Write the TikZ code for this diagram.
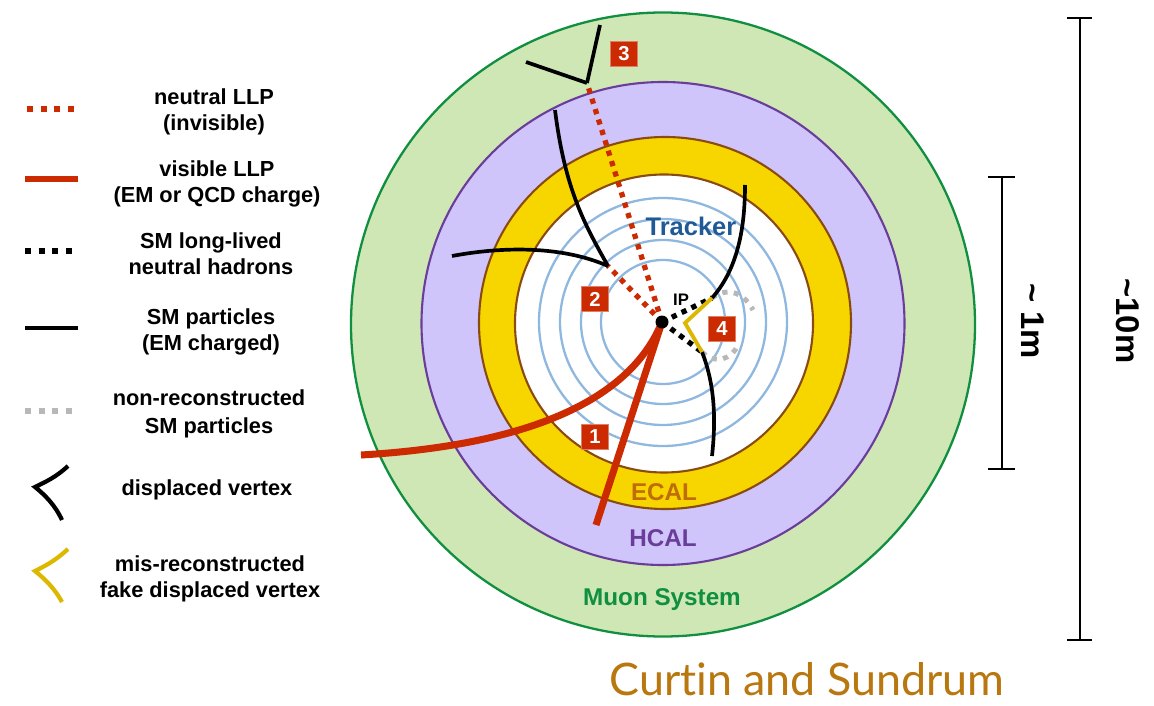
\documentclass[tikz,border=0pt]{standalone}
\usepackage{fontspec}
\usepackage{xcolor}
\usetikzlibrary{arrows.meta, positioning}
\setmainfont{Liberation Sans}
\newfontfamily\creditfont[Ligatures=NoCommon]{Lato}
\definecolor{muonbg}{HTML}{CFE6B5}
\definecolor{muonline}{HTML}{0F8F3F}
\definecolor{hcalbg}{HTML}{CFC5FB}
\definecolor{hcalline}{HTML}{6A3D9A}
\definecolor{ecalbg}{HTML}{F7D600}
\definecolor{ecalline}{HTML}{8A4B10}
\definecolor{ecaltext}{HTML}{C06C0A}
\definecolor{trackerline}{HTML}{8FB8E0}
\definecolor{trackertext}{HTML}{1F5A96}
\definecolor{llpred}{HTML}{CC2A00}
\definecolor{fakeyellow}{HTML}{DDB800}
\definecolor{nonrecgrey}{HTML}{B8B8B8}
\definecolor{creditcolour}{HTML}{B8770F}

\begin{document}
\begin{tikzpicture}[x=0.02cm, y=-0.02cm,
    legendtext/.style={align=center, font=\bfseries\fontsize{12.4}{14.7}\selectfont, inner sep=0pt},
    ringlabel/.style={font=\bfseries\fontsize{13.8}{15}\selectfont, inner sep=0pt},
    scalelabel/.style={font=\bfseries\fontsize{18.7}{20}\selectfont, inner sep=0pt, rotate=-90},
    badge/.style={rectangle, fill=llpred, draw=llpred!60!white, line width=0.3pt, minimum width=0.55cm, minimum height=0.51cm, inner sep=0pt, text=white, font=\bfseries\fontsize{11.5}{12}\selectfont},
    neutralllp/.style={draw=llpred, line width=3pt, dash pattern=on 3pt off 3.2pt},
    visiblellp/.style={draw=llpred, line width=4pt},
    hadron/.style={draw=black, line width=3pt, dash pattern=on 3pt off 3.2pt},
    smtrack/.style={draw=black, line width=2.1pt},
    nonrec/.style={draw=nonrecgrey, line width=2.8pt, dash pattern=on 3pt off 3.6pt},
    fakevertex/.style={draw=fakeyellow, line width=2.2pt},
    scalebar/.style={draw=black, line width=1.1pt}
]
\useasboundingbox (0,0) rectangle (1154,706);

% detector rings
\draw[draw=muonline, fill=muonbg, line width=1.3pt] (663,324.5) circle (312);
\draw[draw=hcalline, fill=hcalbg, line width=1.2pt] (663,323.5) circle (241.5);
\draw[draw=ecalline, fill=ecalbg, line width=1.2pt] (665,323) circle (186);
\draw[draw=ecalline, fill=white, line width=1.2pt] (664,323.5) circle (149);
\foreach \rad in {62,82,103,124}
    \draw[draw=trackerline, line width=1.3pt] (663,322) circle (\rad);

% named points
\coordinate (ip) at (662,322);
\coordinate (dvtwo) at (608,266);
\coordinate (dvthree) at (587,83);
\coordinate (kaonup) at (712,298);
\coordinate (kaondown) at (702,352);
\coordinate (fakedv) at (685,323);

% tracks
\draw[neutralllp] (ip) -- (dvthree);
\draw[neutralllp] (ip) -- (dvtwo);
\draw[hadron] (ip) -- (kaonup);
\draw[hadron] (ip) -- (kaondown);
\draw[nonrec] (kaonup) .. controls (730,285) and (745,295) .. (753,310);
\draw[nonrec] (kaondown) .. controls (715,365) and (732,360) .. (739,343);
\draw[visiblellp] (ip) .. controls (630,400) and (530,445) .. (361,455);
\draw[visiblellp] (ip) -- (596,525);
\draw[smtrack] (dvtwo) .. controls (585,225) and (565,190) .. (555,110);
\draw[smtrack] (dvtwo) .. controls (560,245) and (500,247) .. (452,256);
\draw[smtrack] (dvthree) -- (600,25);
\draw[smtrack] (dvthree) -- (526,62);
\draw[smtrack] (kaonup) .. controls (735,272) and (745,235) .. (745,185);
\draw[smtrack] (kaondown) .. controls (715,385) and (716,420) .. (712,456);
\draw[fakevertex] (kaonup) -- (fakedv) -- (kaondown);
\fill[black] (ip) circle (6.5);

% labels in the detector
\node[ringlabel, text=trackertext, font=\bfseries\fontsize{14.5}{16}\selectfont] (tracker) at (691,226) {Tracker};
\node[ringlabel, text=black, font=\bfseries\fontsize{9.5}{11}\selectfont] (iplabel) at (681,300) {IP};
\node[ringlabel, text=ecaltext] (ecal) at (664,492) {ECAL};
\node[ringlabel, text=hcalline] (hcal) at (663,538) {HCAL};
\node[ringlabel, text=muonline] (muon) at (662,600) {Muon System};
\node[badge] (one) at (595,437) {1};
\node[badge] (two) at (595,299) {2};
\node[badge] (three) at (624,54) {3};
\node[badge] (four) at (722,329) {4};

% scale bars
\coordinate (onetop) at (1002,177);
\coordinate (onebot) at (1002,469);
\coordinate (tentop) at (1080,18);
\coordinate (tenbot) at (1080,640);
\draw[scalebar] (onetop) -- (onebot);
\draw[scalebar] (988,177) -- (1015,177);
\draw[scalebar] (988,469) -- (1015,469);
\draw[scalebar] (tentop) -- (tenbot);
\draw[scalebar] (1067,18) -- (1092,18);
\draw[scalebar] (1067,640) -- (1092,640);
\node[scalelabel] (onem) at (1033,321) {\textasciitilde\ 1m};
\node[scalelabel] (tenm) at (1128,321) {\textasciitilde 10m};

% legend
\coordinate (la) at (27,109);  \coordinate (lb) at (74.5,109);
\coordinate (lc) at (25,179);  \coordinate (ld) at (78,179);
\coordinate (le) at (25,251);  \coordinate (lf) at (72.5,251);
\coordinate (lg) at (25,328);  \coordinate (lh) at (78,328);
\coordinate (li) at (25,411);  \coordinate (lj) at (72.5,411);
\draw[neutralllp, dash pattern=on 3.4pt off 4.4pt] (la) -- (lb);
\draw[visiblellp, line width=3.4pt] (lc) -- (ld);
\draw[hadron, dash pattern=on 3.4pt off 4.4pt] (le) -- (lf);
\draw[smtrack, line width=1.9pt] (lg) -- (lh);
\draw[nonrec, line width=3.2pt, dash pattern=on 3.4pt off 4.4pt] (li) -- (lj);
\draw[smtrack, line width=2.4pt] (68,466) .. controls (55,478) and (45,482) .. (35,487) .. controls (45,495) and (55,505) .. (62,520);
\draw[fakevertex, line width=2.4pt] (68,549) .. controls (55,561) and (45,566) .. (35,571) .. controls (45,579) and (55,589) .. (62,602);
\node[legendtext] (t1) at (214,112) {neutral LLP\\(invisible)};
\node[legendtext] (t2) at (217,184) {visible LLP\\(EM or QCD charge)};
\node[legendtext] (t3) at (211,254) {SM long-lived\\neutral hadrons};
\node[legendtext] (t4) at (211,332) {SM particles\\(EM charged)};
\node[legendtext] (t5) at (209,414) {non-reconstructed\\[1.5pt]SM particles};
\node[legendtext] (t6) at (207,490) {displaced vertex};
\node[legendtext] (t7) at (210,579) {mis-reconstructed\\fake displaced vertex};

\node[text=creditcolour, font=\creditfont\fontsize{25.5}{30}\selectfont, inner sep=0pt] (credit) at (807,679) {Curtin and Sundrum};
\end{tikzpicture}
\end{document}
